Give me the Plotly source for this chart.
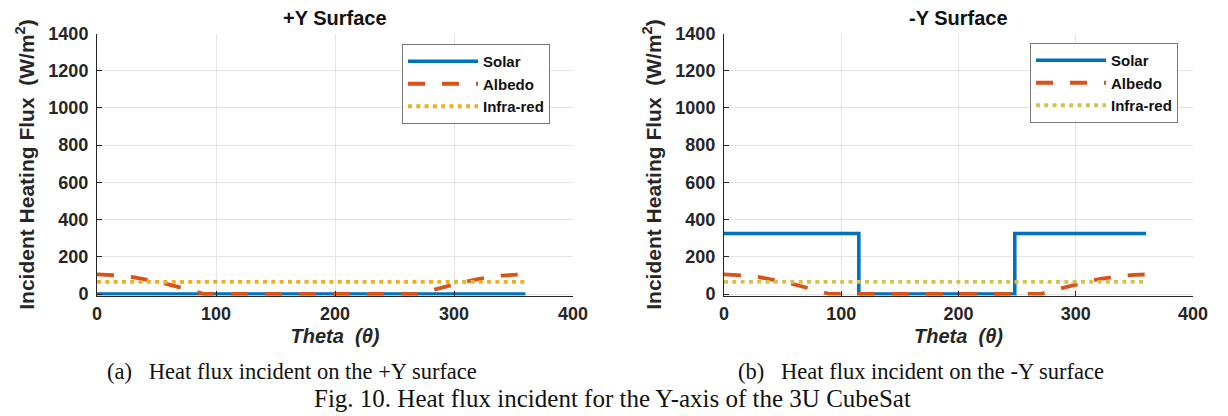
import plotly.graph_objects as go

# ---------------- data ----------------
theta = [0, 10, 20, 30, 40, 50, 60, 70, 80, 90, 100, 110, 120, 130, 140, 150, 160, 170, 180,
         190, 200, 210, 220, 230, 240, 250, 260, 270, 280, 290, 300, 310, 320, 330, 340, 350, 360]
albedo = [105, 103, 99, 91, 80, 67, 52, 36, 18, 0, 0, 0, 0, 0, 0, 0, 0, 0, 0,
          0, 0, 0, 0, 0, 0, 0, 0, 0, 18, 36, 52, 67, 80, 91, 99, 103, 105]
infrared = [65] * len(theta)

solar_pos_theta = [0, 360]
solar_pos = [0, 0]

solar_neg_theta = [0, 115, 115, 248, 248, 360]
solar_neg = [325, 325, 0, 0, 325, 325]

x_ticks = [0, 100, 200, 300, 400]
y_ticks = [0, 200, 400, 600, 800, 1000, 1200, 1400]

titles = ["+Y Surface", "-Y Surface"]
captions = ["(a)\u00a0\u00a0 Heat flux incident on the +Y surface",
            "(b)\u00a0\u00a0 Heat flux incident on the -Y surface"]
fig_caption = "Fig. 10. Heat flux incident for the Y-axis of the 3U CubeSat"

# ---------------- style ----------------
W, H = 1228, 416
OFF = 8  # page body margin
C_SOLAR = "#0072BD"
C_ALB = "#D95319"
C_IR = ["#EDB120", "#D6C14A"]
SANS = "Liberation Sans, Arial, sans-serif"
SERIF = "Liberation Serif, Times New Roman, serif"

def px_x(p):
    return (p - OFF) / W

def px_y(p):
    return 1 - (p - OFF) / H

fig = go.Figure()

panels = [
    dict(xa="x", ya="y", legend="legend", solar_t=solar_pos_theta, solar=solar_pos, ir=C_IR[0]),
    dict(xa="x2", ya="y2", legend="legend2", solar_t=solar_neg_theta, solar=solar_neg, ir=C_IR[1]),
]

for p in panels:
    fig.add_trace(go.Scatter(x=p["solar_t"], y=p["solar"], mode="lines", name="Solar",
                             line=dict(color=C_SOLAR, width=3.6), xaxis=p["xa"], yaxis=p["ya"],
                             legend=p["legend"]))
    fig.add_trace(go.Scatter(x=theta, y=albedo, mode="lines", name="Albedo",
                             line=dict(color=C_ALB, width=3.8, dash="17px,17px"),
                             xaxis=p["xa"], yaxis=p["ya"], legend=p["legend"]))
    fig.add_trace(go.Scatter(x=theta, y=infrared, mode="lines", name="Infra-red",
                             line=dict(color=p["ir"], width=3.8, dash="4px,4.3px"),
                             xaxis=p["xa"], yaxis=p["ya"], legend=p["legend"]))

x_doms = [[px_x(97), px_x(573)], [px_x(724), px_x(1193)]]
y_dom = [px_y(295.5), px_y(33.5)]

axis_common = dict(
    automargin=False,
    showgrid=True, gridcolor="#E3E3E3", gridwidth=1,
    showline=True, linecolor="#262626", linewidth=1,
    ticks="inside", ticklen=5, tickcolor="#262626",
    zeroline=False,
    tickfont=dict(family=SANS, size=18, color="#262626", weight="bold"),
)

layout_axes = {}
for i, dom in enumerate(x_doms):
    sx = "" if i == 0 else str(i + 1)
    layout_axes["xaxis" + sx] = dict(
        axis_common, domain=dom, range=[0, 400], tickvals=x_ticks,
        anchor="y" + sx, ticklabelstandoff=2,
        title=dict(text="Theta\u00a0\u00a0(\u03b8)", standoff=5,
                   font=dict(family=SANS, size=20, color="#262626", weight="bold", style="italic")),
    )
    layout_axes["yaxis" + sx] = dict(
        axis_common, domain=y_dom, range=[-8, 1400], tickvals=y_ticks,
        anchor="x" + sx, ticklabelstandoff=4,
        title=dict(text="Incident Heating Flux\u00a0\u00a0(W/m<sup>2</sup>)", standoff=8,
                   font=dict(family=SANS, size=21, color="#262626", weight="bold")),
    )

legend_common = dict(
    bgcolor="white", bordercolor="#7A7A7A", borderwidth=1,
    font=dict(family=SANS, size=15, color="#111111", weight="bold"),
    xanchor="left", yanchor="top", tracegroupgap=0, itemwidth=70,
)

annotations = []
for i, dom in enumerate(x_doms):
    annotations.append(dict(text=titles[i], x=(dom[0] + dom[1]) / 2, y=px_y(18),
                            xref="paper", yref="paper", showarrow=False,
                            xanchor="center", yanchor="middle",
                            font=dict(family=SANS, size=20, color="#111111", weight="bold")))
annotations.append(dict(text=captions[0], x=px_x(292), y=px_y(371), xref="paper", yref="paper",
                        xanchor="center", yanchor="middle",
                        showarrow=False, font=dict(family=SERIF, size=22.5, color="#111111")))
annotations.append(dict(text=captions[1], x=px_x(921), y=px_y(371), xref="paper", yref="paper",
                        xanchor="center", yanchor="middle",
                        showarrow=False, font=dict(family=SERIF, size=22.5, color="#111111")))
annotations.append(dict(text=fig_caption, x=px_x(612), y=px_y(398.5), xref="paper", yref="paper",
                        xanchor="center", yanchor="middle",
                        showarrow=False, font=dict(family=SERIF, size=25, color="#111111")))

fig.update_layout(
    width=W, height=H,
    margin=dict(l=0, r=0, t=0, b=0),
    paper_bgcolor="white", plot_bgcolor="white",
    showlegend=True,
    legend=dict(legend_common, x=px_x(402), y=px_y(44)),
    legend2=dict(legend_common, x=px_x(1030), y=px_y(43)),
    annotations=annotations,
    **layout_axes,
)

fig.write_html("out.html")
